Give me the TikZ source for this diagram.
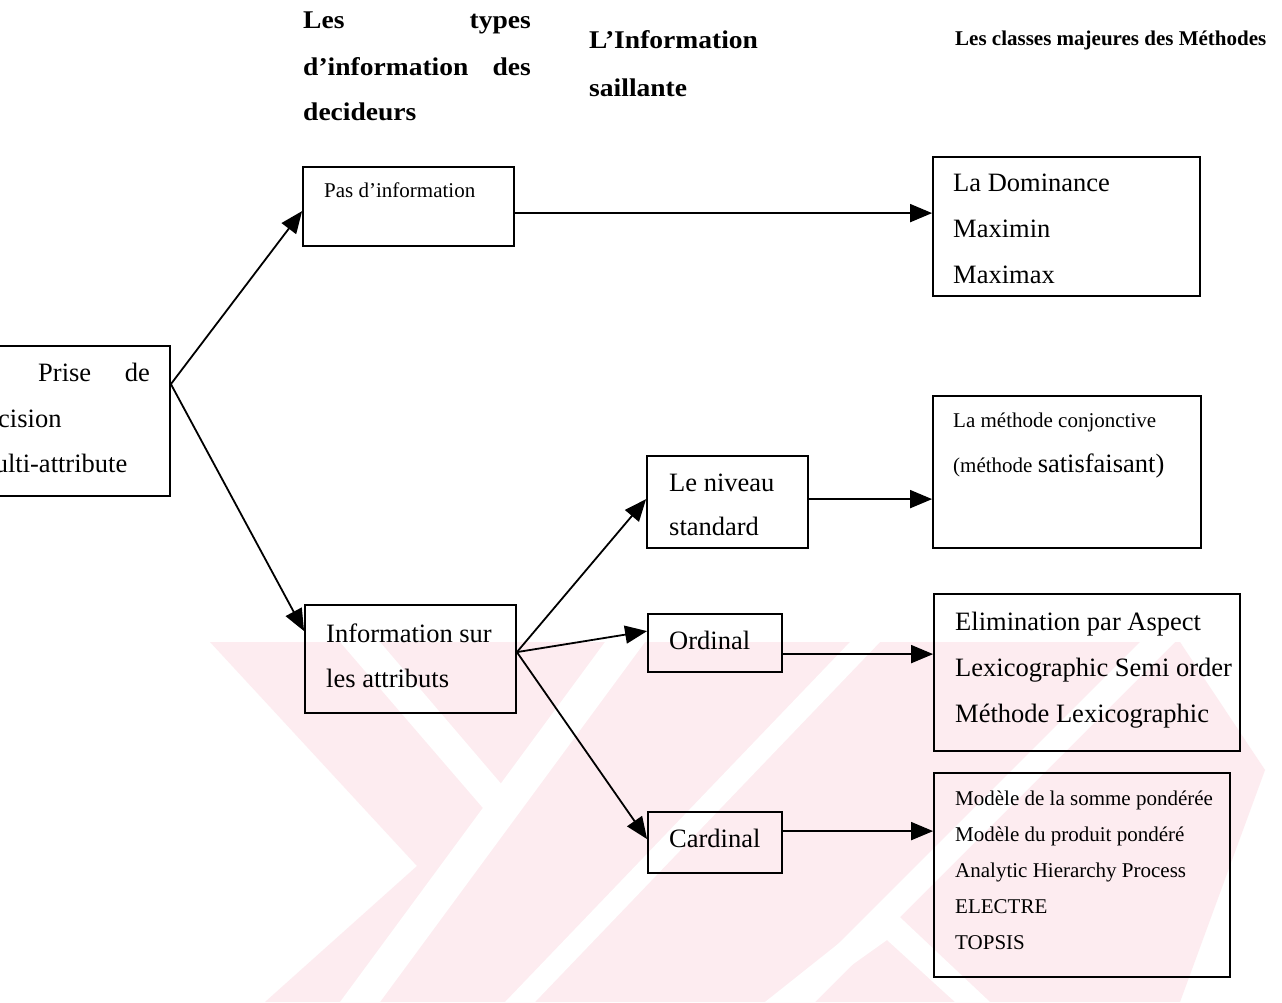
\documentclass[tikz,border=0pt]{standalone}
\usepackage{fontspec}
\setmainfont{Liberation Serif}
\newfontfamily\hdfont{Liberation Serif}[FakeStretch=1.08, Ligatures=TeX]
\usetikzlibrary{arrows.meta}
\definecolor{wm}{RGB}{253,236,240}
\tikzset{
  box/.style={draw=black, line width=1.8pt, minimum width=#1, inner sep=0pt},
  conn/.style={line width=1.8pt, -{Triangle[length=22pt,width=18pt]}},
  body/.style={font=\fontsize{26.5}{30}\selectfont, inner sep=0pt, anchor=base west},
  small/.style={font=\fontsize{21}{25}\selectfont, inner sep=0pt, anchor=base west},
  head/.style={font=\hdfont\bfseries\fontsize{25.5}{29}\selectfont, inner sep=0pt, anchor=base west},
  headsm/.style={font=\bfseries\fontsize{21}{25}\selectfont, inner sep=0pt, anchor=base west},
}
\begin{document}
\begin{tikzpicture}[x=1pt,y=-1pt]
\clip (0,0) rectangle (1282,1002);
\fill[white] (0,0) rectangle (1282,1002);
% watermark
\fill[wm] (210,642) -- (1180,642) -- (1265,770) -- (1180,1002) -- (265,1002) -- (417,866) -- cycle;
\fill[white] (340,642) -- (380,642) -- (515,800) -- (495,822) -- cycle;
\fill[white] (605,642) -- (645,642) -- (380,1002) -- (340,1002) -- cycle;
\fill[white] (850,642) -- (880,642) -- (535,1002) -- (505,1002) -- cycle;
\fill[white] (1140,642) -- (1175,642) -- (815,1002) -- (780,1002) -- cycle;
\fill[white] (887,905) -- (990,1002) -- (955,1002) -- (887,940) -- (800,1002) -- (765,1002) -- cycle;

% headers
\node[head] (h1a) at (303,28) {Les};
\node[head, anchor=base east] (h1b) at (531,28) {types};
\node[head] (h1c) at (303,75) {d’information};
\node[head, anchor=base east] (h1d) at (531,75) {des};
\node[head] (h1e) at (303,120) {decideurs};
\node[head] (h2a) at (589,48) {L’Information};
\node[head] (h2b) at (589,96) {saillante};
\node[headsm] (h3) at (955,45) {Les classes majeures des Méthodes};

% boxes
\node[box=230pt, minimum height=150pt] (prise) at (55,421) {};
\node[box=211pt, minimum height=79pt] (pas) at (408.5,206.5) {};
\node[box=211pt, minimum height=108pt] (info) at (410.5,659) {};
\node[box=161pt, minimum height=92pt] (niveau) at (727.5,502) {};
\node[box=134pt, minimum height=58pt] (ordinal) at (715,643) {};
\node[box=134pt, minimum height=61pt] (cardinal) at (715,842.5) {};
\node[box=267pt, minimum height=139pt] (domin) at (1066.5,226.5) {};
\node[box=268pt, minimum height=152pt] (conj) at (1067,472) {};
\node[box=306pt, minimum height=157pt] (elim) at (1087,672.5) {};
\node[box=296pt, minimum height=204pt] (methods) at (1082,875) {};

% texts
\node[body] (pa) at (38,381) {Prise};
\node[body, anchor=base east] (pb) at (150,381) {de};
\node[body] (pc) at (-27,427) {décision};
\node[body] (pd) at (-26,472) {multi-attribute};

\node[small] (pasT) at (324,197) {Pas d’information};

\node[body] (ia) at (326,642) {Information sur};
\node[body] (ib) at (326,687) {les attributs};

\node[body] (na) at (669,491) {Le niveau};
\node[body] (nb) at (669,535) {standard};
\node[body] (oT) at (669,649) {Ordinal};
\node[body] (cT) at (669,847) {Cardinal};

\node[body] (da) at (953,191) {La Dominance};
\node[body] (db) at (953,237) {Maximin};
\node[body] (dc) at (953,283) {Maximax};

\node[small] (ca) at (953,427) {La méthode conjonctive};
\node[small] (cb) at (953,472) {(méthode \fontsize{26.5}{30}\selectfont satisfaisant)};

\node[body] (ea) at (955,630) {Elimination par Aspect};
\node[body] (eb) at (955,676) {Lexicographic Semi order};
\node[body] (ec) at (955,722) {Méthode Lexicographic};

\node[small] (ma) at (955,805) {Modèle de la somme pondérée};
\node[small] (mb) at (955,841) {Modèle du produit pondéré};
\node[small] (mc) at (955,877) {Analytic Hierarchy Process};
\node[small] (md) at (955,913) {ELECTRE};
\node[small] (me) at (955,949) {TOPSIS};

% connectors
\draw[conn] ([yshift=-39pt]prise.north east) -- ([yshift=-45pt]pas.north west);
\draw[conn] ([yshift=-39pt]prise.north east) -- ([yshift=-27pt]info.north west);
\draw[conn] ([yshift=-47pt]pas.north east) -- ([yshift=-57pt]domin.north west);
\draw[conn] ([yshift=-48pt]info.north east) -- ([yshift=-44pt]niveau.north west);
\draw[conn] ([yshift=-48pt]info.north east) -- ([yshift=-18pt]ordinal.north west);
\draw[conn] ([yshift=-48pt]info.north east) -- ([yshift=-28pt]cardinal.north west);
\draw[conn] ([yshift=-44pt]niveau.north east) -- ([yshift=-104pt]conj.north west);
\draw[conn] ([yshift=-41pt]ordinal.north east) -- ([yshift=-61pt]elim.north west);
\draw[conn] ([yshift=-20pt]cardinal.north east) -- ([yshift=-59pt]methods.north west);
\end{tikzpicture}
\end{document}
